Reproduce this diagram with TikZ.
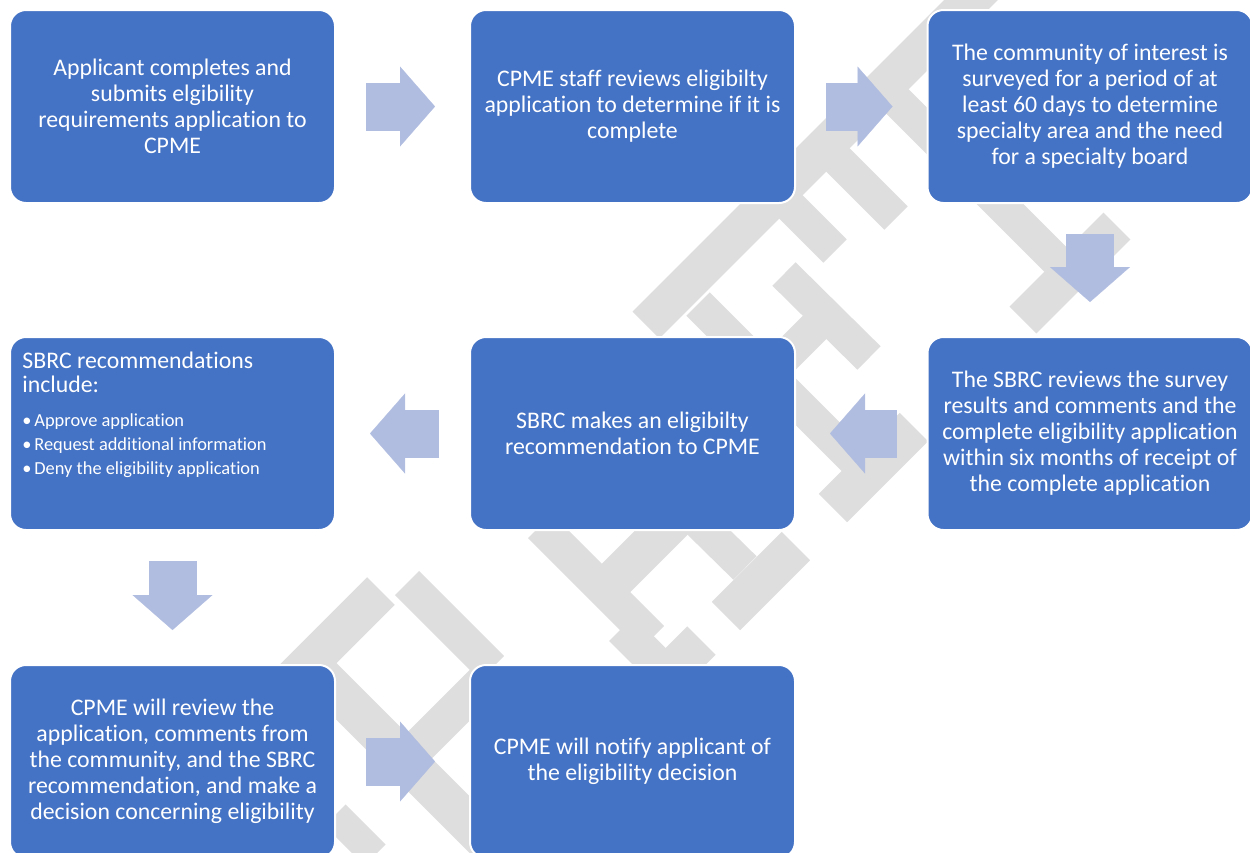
\documentclass[tikz,border=0pt]{standalone}
\usepackage{fontspec}
\setmainfont{Carlito}[Ligatures=NoCommon]
\usetikzlibrary{arrows.meta}
\definecolor{boxblue}{HTML}{4472C4}
\definecolor{flowblue}{HTML}{B1BDE0}
\definecolor{markgray}{HTML}{DEDEDE}

\begin{document}
\begin{tikzpicture}[x=0.5pt,y=-0.5pt,
    stepbox/.style={shape=rectangle,rounded corners=8pt,fill=boxblue,draw=white,line width=1pt,
        minimum width=162.5pt,minimum height=96.5pt,inner sep=0pt,text=white,align=center,
        font=\fontsize{11.9}{13}\selectfont},
    flow/.style={color=flowblue,line width=24pt,shorten <=15pt,shorten >=17pt,
        -{Triangle[length=17.5pt,width=40pt,line width=0.1pt]}},
    wmark/.style={draw=markgray,line cap=butt}]
    \clip (0,0) rectangle (1250,853);

    % watermark
    \draw[wmark, line width=19pt] (646,325) -- (985,-14);
    \draw[wmark, line width=16.5pt] (777,193) -- (835,251);
    \draw[wmark, line width=16.5pt] (834,156) -- (896,218);
    \draw[wmark, line width=16.5pt] (888,92) -- (1078,282);
    \draw[wmark, line width=19pt] (1023,320) -- (1117,226);
    \draw[wmark, line width=16.5pt] (784,274) -- (869,358);
    \draw[wmark, line width=16.5pt] (698,304) -- (864,470);
    \draw[wmark, line width=16.5pt] (831,311) -- (761,381);
    \draw[wmark, line width=20pt] (833,508) -- (914,427);
    \draw[wmark, line width=17pt] (540,526) -- (652,638);
    \draw[wmark, line width=20pt] (680,514) -- (607,587);
    \draw[wmark, line width=16.5pt] (690,514) -- (745,568);
    \draw[wmark, line width=20pt] (726,616) -- (796,546);
    \draw[wmark, line width=20pt] (701.5,640.5) -- (661,681);
    \draw[wmark, line width=17.5pt] (621.5,628.5) -- (661.5,668.5);
    \draw[wmark, line width=19.5pt] (286,686) -- (381,591);
    \draw[wmark, line width=17pt] (407,583) -- (492,668);
    \draw[wmark, line width=20pt] (322,677) -- (487,842);
    \draw[wmark, line width=18pt] (485,680) -- (415,750);
    \draw[wmark, line width=15pt] (335,815) -- (375,855);

    \node[stepbox] (A) at (172.5,106.5) {Applicant completes and\\submits elgibility\\requirements application to\\CPME};
    \node[stepbox] (B) at (632.5,106.5) {CPME staff reviews eligibilty\\application to determine if it is\\complete};
    \node[stepbox] (C) at (1090,106.5) {The community of interest is\\surveyed for a period of at\\least 60 days to determine\\specialty area and the need\\for a specialty board};
    \node[stepbox] (D) at (172.5,433.5) {};
    \node[stepbox] (E) at (632.5,433.5) {SBRC makes an eligibilty\\recommendation to CPME};
    \node[stepbox] (F) at (1090,433.5) {The SBRC reviews the survey\\results and comments and the\\complete eligibility application\\within six months of receipt of\\the complete application};
    \node[stepbox] (G) at (172.5,761.5) {CPME will review the\\application, comments from\\the community, and the SBRC\\recommendation, and make a\\decision concerning eligibility};
    \node[stepbox] (H) at (632.5,761.5) {CPME will notify applicant of\\the eligibility decision};

    \node[anchor=north west,inner sep=0pt,text=white] (Dtext) at (22,351.5)
        {\fontsize{11.9}{12}\selectfont
         \begin{tabular}{@{}l@{}}
         SBRC recommendations\\
         include:\\[5pt]
         \fontsize{9.2}{12}\selectfont\makebox[6pt][l]{•}Approve application\\
         \fontsize{9.2}{12}\selectfont\makebox[6pt][l]{•}Request additional information\\
         \fontsize{9.2}{12}\selectfont\makebox[6pt][l]{•}Deny the eligibility application
         \end{tabular}};

    \path[flow] (A) edge (B);
    \path[flow] (B) edge (C);
    \path[flow] (C) edge (F);
    \path[flow] (F) edge (E);
    \path[flow] (E) edge (D);
    \path[flow] (D) edge (G);
    \path[flow] (G) edge (H);

\end{tikzpicture}
\end{document}
